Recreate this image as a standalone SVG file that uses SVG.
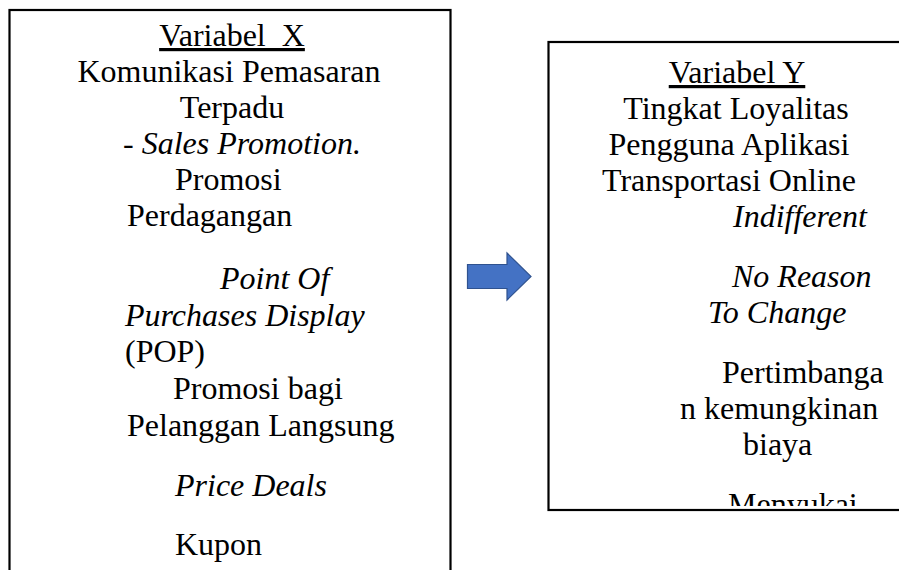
<svg xmlns="http://www.w3.org/2000/svg" width="899" height="570" viewBox="0 0 899 570">
<defs>
<style>
.box{fill:#fff;stroke:#000;stroke-width:2.2}
.t{font-family:"Liberation Serif","Times New Roman",serif;font-size:32px;fill:#000}
.i{font-style:italic}
.m{text-anchor:middle}
.arrow{fill:#4472C4;stroke:#2F528F;stroke-width:1.2}
</style>
<clipPath id="clipY"><rect x="549" y="43" width="360" height="463"/></clipPath>
</defs>
<rect width="899" height="570" fill="#fff"/>
<g id="variabel-x">
<rect class="box" x="9.5" y="10" width="441" height="600"/>
<text class="t m" x="232" y="46" text-decoration="underline" xml:space="preserve">Variabel  X</text>
<text class="t m" x="229" y="82">Komunikasi Pemasaran</text>
<text class="t m" x="232" y="118">Terpadu</text>
<text class="t" x="123" y="154" xml:space="preserve">- <tspan class="i">Sales Promotion.</tspan></text>
<text class="t" x="175" y="190">Promosi</text>
<text class="t" x="127" y="226">Perdagangan</text>
<text class="t i" x="220" y="289">Point Of</text>
<text class="t i" x="125" y="326">Purchases Display</text>
<text class="t" x="125" y="362">(POP)</text>
<text class="t" x="173" y="399">Promosi bagi</text>
<text class="t" x="127" y="436">Pelanggan Langsung</text>
<text class="t i" x="175" y="496">Price Deals</text>
<text class="t" x="175" y="555">Kupon</text>
</g>
<g id="connectors">
<polygon class="arrow" points="467.5,264.5 507,264.5 507,253 531,276.5 507,300 507,288.5 467.5,288.5"/>
</g>
<g id="variabel-y">
<rect class="box" x="548.5" y="42" width="400" height="468"/>
<g clip-path="url(#clipY)">
<text class="t m" x="737" y="83" text-decoration="underline">Variabel Y</text>
<text class="t m" x="736" y="119">Tingkat Loyalitas</text>
<text class="t m" x="729" y="155">Pengguna Aplikasi</text>
<text class="t" x="602" y="191">Transportasi Online</text>
<text class="t i" x="733" y="227">Indifferent</text>
<text class="t i" x="732" y="287">No Reason</text>
<text class="t i" x="708" y="323">To Change</text>
<text class="t" x="722" y="383">Pertimbanga</text>
<text class="t" x="680" y="419">n kemungkinan</text>
<text class="t" x="743" y="455">biaya</text>
<text class="t" x="728" y="515">Menyukai</text>
</g>
</g>
</svg>
